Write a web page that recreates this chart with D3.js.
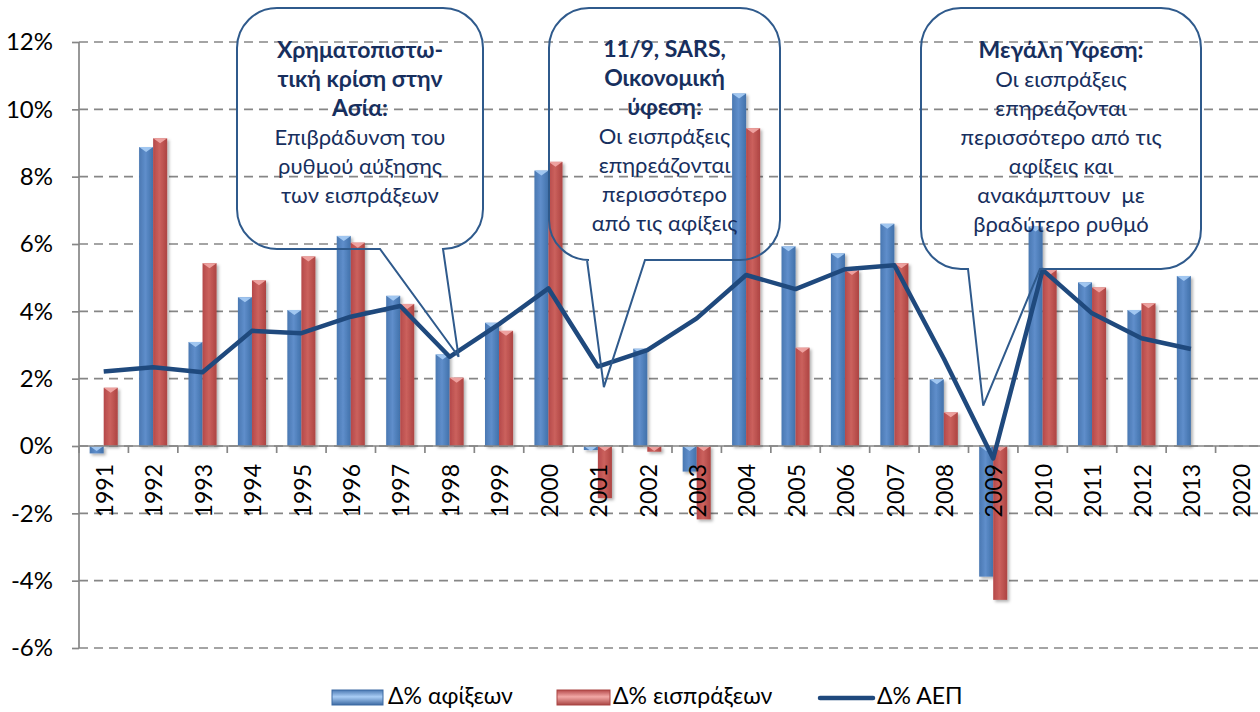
<!DOCTYPE html>
<html><head><meta charset="utf-8">
<script src="https://cdn.jsdelivr.net/npm/d3@7"></script>
<style>body{margin:0;background:#fff}svg{display:block}text{font-family:Lato,'Open Sans',sans-serif}</style>
</head><body><svg id="c" width="1260" height="712"></svg>
<script>
const years = ["1991","1992","1993","1994","1995","1996","1997","1998","1999","2000","2001","2002","2003","2004","2005","2006","2007","2008","2009","2010","2011","2012","2013","2020"];
const arrivals = [-0.22, 8.88, 3.09, 4.42, 4.04, 6.24, 4.46, 2.72, 3.66, 8.18, -0.12, 2.89, -0.76, 10.47, 5.93, 5.72, 6.6, 1.98, -3.88, 6.52, 4.86, 4.04, 5.05, null];
const receipts = [1.73, 9.14, 5.43, 4.92, 5.63, 6.04, 4.22, 2.03, 3.42, 8.44, -1.55, -0.17, -2.18, 9.44, 2.92, 5.23, 5.43, 1.0, -4.57, 5.23, 4.71, 4.24, null, null];
const gdp = [2.21, 2.34, 2.19, 3.42, 3.35, 3.84, 4.16, 2.65, 3.62, 4.68, 2.36, 2.85, 3.79, 5.08, 4.66, 5.25, 5.37, 2.6, -0.37, 5.23, 3.94, 3.2, 2.88, null];
const yTicks = [-6,-4,-2,0,2,4,6,8,10,12];
const seriesNames = ["Δ% αφίξεων","Δ% εισπράξεων","Δ% ΑΕΠ"];
const note1 = [["Χρηματοπιστω-",1],["τική κρίση στην",1],["Ασία:",1],["Επιβράδυνση του",0],["ρυθμού αύξησης",0],["των εισπράξεων",0]];
const note2 = [["11/9, SARS,",1],["Οικονομική",1],["ύφεση:",1],["Οι εισπράξεις",0],["επηρεάζονται",0],["περισσότερο",0],["από τις αφίξεις",0]];
const note3 = [["Μεγάλη Ύφεση:",1],["Οι εισπράξεις",0],["επηρεάζονται",0],["περισσότερο από τις",0],["αφίξεις και",0],["ανακάμπτουν  με",0],["βραδύτερο ρυθμό",0]];

const svg = d3.select("#c");
const x = d3.scaleBand().domain(years).range([79, 1265]).padding(0);
const x1 = d3.scaleBand().domain(["a","r"]).range([0, x.bandwidth()]).paddingInner(0).paddingOuter(0.76);
const y = d3.scaleLinear().domain([-6, 12]).range([648, 42]);

const defs = svg.append("defs");
function grad(id, c0, c1, c2, vertical){
  const g = defs.append("linearGradient").attr("id", id).attr("x1","0").attr("x2",vertical?"0":"1").attr("y1","0").attr("y2",vertical?"1":"0");
  g.append("stop").attr("offset","0").attr("stop-color",c0);
  g.append("stop").attr("offset","0.45").attr("stop-color",c1);
  g.append("stop").attr("offset","1").attr("stop-color",c2);
}
grad("gb","#4a78b2","#5f8ecb","#4171aa");
grad("gr","#b5494a","#cb615d","#ad4442");
grad("lb","#4a78b2","#a9cdf5","#3d6aa3",true);
grad("lr","#b5494a","#f2a8a6","#a94543",true);
const f = defs.append("filter").attr("id","sh").attr("x","-30%").attr("y","-10%").attr("width","160%").attr("height","130%");
f.append("feDropShadow").attr("dx",2).attr("dy",2).attr("stdDeviation",1.5).attr("flood-color","#000").attr("flood-opacity",0.3);

// gridlines
svg.append("g").selectAll("line").data(yTicks).join("line")
  .attr("x1",79).attr("x2",1260).attr("y1",d=>y(d)).attr("y2",d=>y(d))
  .attr("stroke","#868686").attr("stroke-width",1.7).attr("stroke-dasharray","9,6");

// y axis
const yAxis = svg.append("g").attr("transform","translate(79,0)")
  .call(d3.axisLeft(y).tickValues(yTicks).tickFormat(d=>d+"%").tickSize(7).tickPadding(19));
yAxis.select(".domain").attr("stroke","#868686").attr("stroke-width",1.7).attr("d","M0,42V648");
yAxis.selectAll(".tick line").attr("stroke","#868686").attr("stroke-width",1.7);
yAxis.selectAll("text").attr("font-size",24).attr("fill","#000").style("font-family","Lato,'Open Sans',sans-serif");

// bars
const bars = svg.append("g").attr("filter","url(#sh)");
function drawBars(vals, key, fillId, capColor){
  const d = years.map((yr,i)=>({yr, v: vals[i]})).filter(e=>e.v!==null);
  const g = bars.append("g");
  g.selectAll("rect").data(d).join("rect")
    .attr("x", e=>x(e.yr)+x1(key)).attr("width", x1.bandwidth())
    .attr("y", e=>y(Math.max(0,e.v))).attr("height", e=>Math.abs(y(e.v)-y(0)))
    .attr("fill", `url(#${fillId})`);
  g.selectAll("path").data(d).join("path")
    .attr("d", e=>{const bx=x(e.yr)+x1(key), w=x1.bandwidth(), t=y(Math.max(0,e.v));
      return `M${bx},${t}H${bx+w}L${bx+w/2},${t+5}Z`;})
    .attr("fill", capColor).attr("opacity",0.9);
}
drawBars(arrivals,"a","gb","#a9cdf5");
drawBars(receipts,"r","gr","#f2a8a6");

// x axis
const xa = svg.append("g");
xa.append("line").attr("x1",79).attr("x2",1265).attr("y1",y(0)).attr("y2",y(0)).attr("stroke","#868686").attr("stroke-width",1.7);
xa.selectAll("line.t").data(years.concat(["end"])).join("line").attr("class","t")
  .attr("x1",(d,i)=>79+i*x.step()).attr("x2",(d,i)=>79+i*x.step())
  .attr("y1",y(0)).attr("y2",y(0)+7).attr("stroke","#868686").attr("stroke-width",1.7);
xa.selectAll("text").data(years).join("text")
  .attr("transform",d=>`translate(${x(d)+x.bandwidth()/2+1},${y(0)+18}) rotate(-90)`)
  .attr("text-anchor","end").attr("dy","0.36em").attr("font-size",23).attr("fill","#000").text(d=>d);

// GDP line
const pts = years.map((yr,i)=>({yr,v:gdp[i]})).filter(e=>e.v!==null);
svg.append("path").datum(pts)
  .attr("d", d3.line().x(e=>x(e.yr)+x.bandwidth()/2).y(e=>y(e.v)))
  .attr("fill","none").attr("stroke","#1f497d").attr("stroke-width",4.5).attr("stroke-linejoin","round");

// callouts
function bubble(x0,y0,x1_,y1,r,b1,b2,tip){
  return `M${x0+r},${y0}H${x1_-r}A${r},${r} 0 0 1 ${x1_},${y0+r}V${y1-r}A${r},${r} 0 0 1 ${x1_-r},${y1}H${b2}L${tip[0]},${tip[1]}L${b1},${y1}H${x0+r}A${r},${r} 0 0 1 ${x0},${y1-r}V${y0+r}A${r},${r} 0 0 1 ${x0+r},${y0}Z`;
}
const callouts = [
  {box:[237,8,483,249], b:[380,443], tip:[x("1998")+x.bandwidth()/2+9, y(2.65)], lines:note1, top:50},
  {box:[549,8,780,260], b:[587,645], tip:[x("2001")+x.bandwidth()/2+6, y(1.75)], lines:note2, top:49},
  {box:[921,8,1201,269], b:[968,1040], tip:[x("2009")+x.bandwidth()/2-10, y(1.2)], lines:note3, top:50}
];
callouts.forEach(c=>{
  svg.append("path").attr("d",bubble(c.box[0],c.box[1],c.box[2],c.box[3],40,c.b[0],c.b[1],c.tip))
    .attr("fill","none").attr("stroke","#2f5a8c").attr("stroke-width",2);
  const cx=(c.box[0]+c.box[2])/2;
  svg.append("g").selectAll("text").data(c.lines).join("text")
    .attr("x",cx).attr("y",(d,i)=>c.top+i*29).attr("dy","0.35em").attr("text-anchor","middle")
    .style("white-space","pre")
    .attr("font-size",d=>d[1]?23:22).attr("font-weight",d=>d[1]?"bold":"normal").attr("fill","#172f5e")
    .text(d=>d[0]);
});

// legend
const lg = svg.append("g");
lg.append("rect").attr("x",332).attr("y",690).attr("width",51).attr("height",15).attr("fill","url(#lb)").attr("stroke","#3d6aa3");
lg.append("rect").attr("x",557).attr("y",690).attr("width",53).attr("height",15).attr("fill","url(#lr)").attr("stroke","#a94543");
lg.append("line").attr("x1",820).attr("x2",873).attr("y1",698).attr("y2",698).attr("stroke","#1f497d").attr("stroke-width",4.5).attr("stroke-linecap","round");
lg.selectAll("text").data(seriesNames).join("text")
  .attr("x",(d,i)=>[388,613,877][i]).attr("y",704).attr("font-size",23).attr("fill","#000").text(d=>d);
</script></body></html>
